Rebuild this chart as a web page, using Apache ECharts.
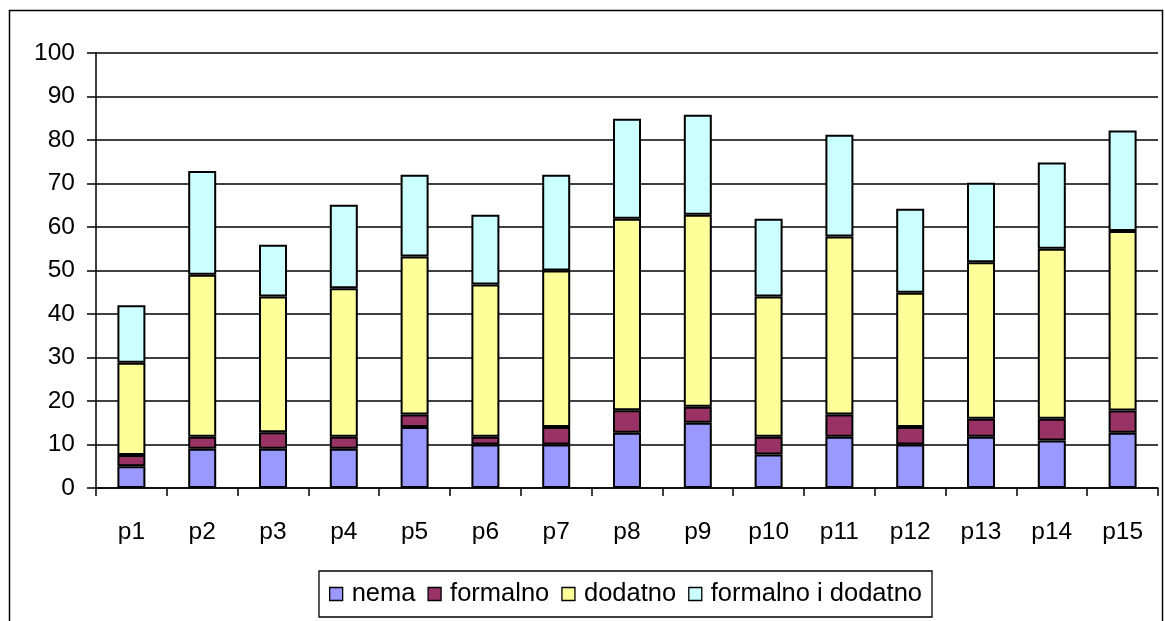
<!DOCTYPE html>
<html>
<head>
<meta charset="utf-8">
<script src="https://cdn.jsdelivr.net/npm/echarts@6/dist/echarts.min.js"></script>
<style>
html,body{margin:0;padding:0;background:#fff;}
#chart{width:1165px;height:621px;}
</style>
</head>
<body>
<div id="chart"></div>
<script>
const categories = ['p1','p2','p3','p4','p5','p6','p7','p8','p9','p10','p11','p12','p13','p14','p15'];
const seriesNames = ['nema','formalno','dodatno','formalno i dodatno'];
const nema = [5, 9, 9, 9, 14, 10, 10, 12.7, 15, 7.7, 11.8, 10, 11.8, 10.9, 12.7];
const formalno = [2.6, 2.8, 3.8, 2.8, 2.9, 1.8, 4, 5.2, 3.7, 4.1, 5.1, 4, 4.1, 5, 5.1];
const dodatno = [21.2, 37.2, 31.2, 34.1, 36.3, 35, 36, 44, 44.1, 32.2, 40.9, 30.9, 36, 39.1, 41.3];
const formalnoIDodatno = [13.2, 23.9, 11.9, 19.2, 18.8, 16, 22, 23, 23, 17.9, 23.4, 19.3, 18.3, 19.8, 23.1];
const yTicks = { min: 0, max: 100, interval: 10 };

const colors = ['#9999FF', '#993366', '#FFFF99', '#CCFFFF'];
const dataSets = [nema, formalno, dodatno, formalnoIDodatno];
const FONT = 'Liberation Sans, Arial, sans-serif';
const FS = 24.5;

const chart = echarts.init(document.getElementById('chart'), null, { renderer: 'canvas' });
chart.setOption({
  animation: false,
  backgroundColor: '#ffffff',
  color: colors,
  graphic: [{
    type: 'rect',
    shape: { x: 9.5, y: 10.5, width: 1153, height: 700 },
    style: { fill: 'none', stroke: '#000', lineWidth: 1.5 },
    silent: true
  }],
  grid: { left: 96, top: 53, width: 1062, height: 435, containLabel: false },
  legend: {
    left: 319, top: 571,
    padding: [10, 10, 10, 10],
    borderColor: '#000', borderWidth: 1.3, borderRadius: 0,
    itemWidth: 13, itemHeight: 13, itemGap: 12,
    icon: 'rect',
    itemStyle: { borderColor: '#000', borderWidth: 1.3 },
    textStyle: { fontFamily: FONT, fontSize: 25.5, color: '#000', padding: [0, 0, 0, 4] },
    data: seriesNames
  },
  xAxis: {
    type: 'category',
    data: categories,
    boundaryGap: true,
    axisLine: { lineStyle: { color: '#000', width: 1.5 } },
    axisTick: { show: true, length: 8, alignWithLabel: false, lineStyle: { color: '#000', width: 1.5 } },
    axisLabel: { fontFamily: FONT, fontSize: FS, color: '#000', margin: 32 },
    splitLine: { show: false }
  },
  yAxis: {
    type: 'value',
    min: yTicks.min, max: yTicks.max, interval: yTicks.interval,
    axisLine: { show: true, lineStyle: { color: '#000', width: 1.5 } },
    axisTick: { show: true, length: 9, lineStyle: { color: '#000', width: 1.5 } },
    axisLabel: { fontFamily: FONT, fontSize: FS, color: '#000', margin: 21 },
    splitLine: { show: true, lineStyle: { color: '#000', width: 1.5 } }
  },
  series: seriesNames.map((name, i) => ({
    name: name,
    type: 'bar',
    stack: 'total',
    barWidth: 28,
    data: dataSets[i],
    itemStyle: { color: colors[i], borderColor: '#000', borderWidth: 2 }
  }))
});
</script>
</body>
</html>
